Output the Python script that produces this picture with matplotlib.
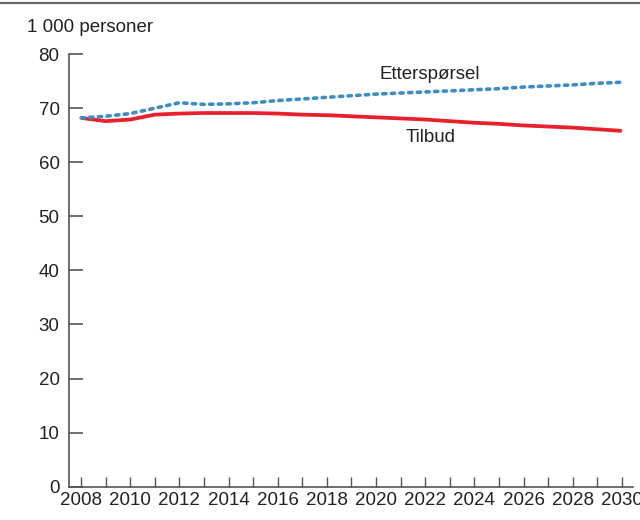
import matplotlib.pyplot as plt
from matplotlib.lines import Line2D

plt.rcParams['font.family'] = ['Liberation Sans', 'DejaVu Sans']

years = list(range(2008, 2031))
etterspoersel = [68.2, 68.5, 69.0, 70.0, 71.0, 70.7, 70.8, 71.0, 71.4, 71.7, 72.0, 72.3,
                 72.6, 72.8, 73.0, 73.2, 73.4, 73.6, 73.9, 74.1, 74.3, 74.6, 74.8]
tilbud = [68.2, 67.6, 67.9, 68.8, 69.0, 69.1, 69.1, 69.1, 69.0, 68.8, 68.7, 68.5,
          68.3, 68.1, 67.9, 67.6, 67.3, 67.1, 66.8, 66.6, 66.4, 66.1, 65.8]
x_labels = [str(y) if y % 2 == 0 else '' for y in years]
y_ticks = [0, 10, 20, 30, 40, 50, 60, 70, 80]

text_col = '#222222'
axis_col = '#555555'
fs = 13.5

fig = plt.figure(figsize=(6.4, 5.2), dpi=100)
ax = fig.add_axes([0.1083, 0.064, 0.881, 0.832])

ax.plot(years, tilbud, color='#e8202a', lw=2.7, solid_capstyle='butt')
ax.plot(years, etterspoersel, color='#3d8cc4', lw=2.6, linestyle=(0, (0.9, 1.5)),
        dash_capstyle='round')

ax.text(2022.2, 76.2, 'Etterspørsel', fontsize=fs, color=text_col, ha='center', va='center')
ax.text(2022.2, 64.6, 'Tilbud', fontsize=fs, color=text_col, ha='center', va='center')

ax.set_xlim(2007.52, 2030.46)
ax.set_ylim(0, 80)
ax.set_xticks(years)
ax.set_xticklabels(x_labels)
ax.set_yticks(y_ticks)

for s in ['top', 'right']:
    ax.spines[s].set_visible(False)
for s in ['left', 'bottom']:
    ax.spines[s].set_color(axis_col)
    ax.spines[s].set_linewidth(1.2)

ax.tick_params(axis='y', direction='in', length=10, width=1.2, color=axis_col,
               labelsize=fs, labelcolor=text_col, pad=7)
ax.tick_params(axis='x', direction='in', length=7.5, width=1.0, color=axis_col,
               labelsize=fs, labelcolor=text_col, pad=4)

fig.text(27 / 640, 1 - 27 / 520, '1 000 personer', fontsize=fs, color=text_col,
         ha='left', va='center')
fig.add_artist(Line2D([0, 1], [1 - 3 / 520, 1 - 3 / 520], color='#666666', lw=1.6,
                      transform=fig.transFigure))

fig.savefig('out.png', dpi=100)
